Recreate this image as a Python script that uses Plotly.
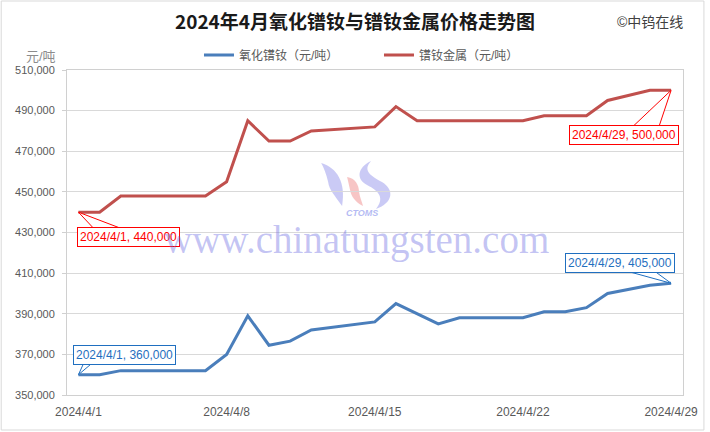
import plotly.graph_objects as go

DATES = ["2024-04-01", "2024-04-02", "2024-04-03", "2024-04-07", "2024-04-08", "2024-04-09",
         "2024-04-10", "2024-04-11", "2024-04-12", "2024-04-15", "2024-04-16", "2024-04-17",
         "2024-04-18", "2024-04-19", "2024-04-22", "2024-04-23", "2024-04-24", "2024-04-25",
         "2024-04-26", "2024-04-28", "2024-04-29"]
OXIDE = [360000, 360000, 362000, 362000, 370000, 389000, 374500, 376500, 382000, 386000, 395000,
         390000, 385000, 388000, 388000, 391000, 391000, 393000, 400000, 404000, 405000]
METAL = [440000, 440000, 448000, 448000, 455000, 485000, 475000, 475000, 480000, 482000, 492000,
         485000, 485000, 485000, 485000, 487500, 487500, 487500, 495000, 500000, 500000]
TICK_DATES = ["2024-04-01", "2024-04-08", "2024-04-15", "2024-04-22", "2024-04-29"]
TICK_LABELS = ["2024/4/1", "2024/4/8", "2024/4/15", "2024/4/22", "2024/4/29"]
NAME_OXIDE = "氧化镨钕（元/吨）"
NAME_METAL = "镨钕金属（元/吨）"
TITLE = "2024年4月氧化镨钕与镨钕金属价格走势图"

W, H = 710, 432
L, R, T, B = 67, 685, 70, 395


def px(x):
    return (x - L) / (R - L)


def py(y):
    return (B - y) / (B - T)


def path(cmds):
    out = []
    for c in cmds:
        if isinstance(c, str):
            out.append(c)
        else:
            out.append(f"{px(c[0]):.5f},{py(c[1]):.5f}")
    return " ".join(out)


FONT = "Liberation Sans, Noto Sans CJK SC, sans-serif"
RED = "#c0504d"
BLUE = "#4a7ebb"

fig = go.Figure()
fig.add_trace(go.Scatter(x=DATES, y=OXIDE, name=NAME_OXIDE, mode="lines",
                         line=dict(color=BLUE, width=3)))
fig.add_trace(go.Scatter(x=DATES, y=METAL, name=NAME_METAL, mode="lines",
                         line=dict(color=RED, width=3)))

shapes = []
# outer border
shapes.append(dict(type="rect", xref="paper", yref="paper", x0=px(1), x1=px(706), y0=py(430), y1=py(1),
                   line=dict(color="#d9d9d9", width=1), layer="below"))
# logo watermark
logo_blue = "rgba(150,150,235,0.5)"
logo_red = "rgba(240,140,140,0.5)"
shapes.append(dict(type="path", xref="paper", yref="paper", layer="between", fillcolor=logo_blue,
                   line=dict(width=0),
                   path=path(["M", (322, 163), "C", (338, 168), (347, 182), (343, 206),
                              "C", (336, 196), (330, 190), (329, 182),
                              "C", (327, 174), (325, 168), (322, 163), "Z"])))
shapes.append(dict(type="path", xref="paper", yref="paper", layer="between", fillcolor=logo_red,
                   line=dict(width=0),
                   path=path(["M", (348, 177), "C", (356, 178), (360, 185), (360, 192),
                              "C", (361, 198), (363, 202), (364, 206),
                              "C", (356, 202), (352, 196), (351, 190),
                              "C", (350, 185), (349, 181), (348, 177), "Z"])))
shapes.append(dict(type="path", xref="paper", yref="paper", layer="between", fillcolor=logo_blue,
                   line=dict(width=0),
                   path=path(["M", (372, 161), "C", (358, 168), (357, 179), (368, 185),
                              "C", (380, 191), (386, 198), (377, 209),
                              "C", (394, 203), (396, 190), (383, 182),
                              "C", (370, 175), (364, 170), (372, 161), "Z"])))


def wedge(xv, yv, p1, p2, color):
    return dict(type="path", xref="x", yref="y", xsizemode="pixel", ysizemode="pixel",
                xanchor=xv, yanchor=yv, layer="above", fillcolor="white",
                line=dict(color=color, width=1),
                path=f"M 0,0 L {p1[0]},{p1[1]} L {p2[0]},{p2[1]} Z")


RED_T = "#ff0000"
BLUE_T = "#1f6fc0"
shapes.append(wedge(DATES[0], METAL[0], (15, -16), (42, -16), RED_T))
shapes.append(wedge(DATES[-1], METAL[-1], (-38, -36), (-12, -36), RED_T))
shapes.append(wedge(DATES[0], OXIDE[0], (5, 11), (13, 11), BLUE_T))
shapes.append(wedge(DATES[-1], OXIDE[-1], (-40, 11), (-15, 11), BLUE_T))

annotations = []


def callout(xv, yv, color, dx, dy):
    d = xv.split("-")
    txt = f"{d[0]}/{int(d[1])}/{int(d[2])}, {yv:,}"
    return dict(x=xv, y=yv, xref="x", yref="y", text=txt, showarrow=False,
                xanchor="center", yanchor="middle",
                xshift=dx, yshift=dy, font=dict(family=FONT, size=12, color=color),
                bgcolor="white", bordercolor=color, borderwidth=1, borderpad=2)


annotations.append(callout(DATES[0], METAL[0], RED_T, 50, -25))
annotations.append(callout(DATES[-1], METAL[-1], RED_T, -47, -45))
annotations.append(callout(DATES[0], OXIDE[0], BLUE_T, 46, 20))
annotations.append(callout(DATES[-1], OXIDE[-1], BLUE_T, -51, 20))


def ptext(x, y, text, font):
    return dict(x=px(x), y=py(y), xref="paper", yref="paper", showarrow=False,
                xanchor="center", yanchor="middle", text=text, font=font)


annotations.append(ptext(357, 240, "www.chinatungsten.com",
                         dict(family="Liberation Serif, serif", size=39,
                              color="rgba(100,100,225,0.38)")))
annotations.append(ptext(363, 213, "<b><i>CTOMS</i></b>",
                         dict(family="Liberation Sans, sans-serif", size=9,
                              color="rgba(130,140,235,0.6)")))
annotations.append(ptext(41, 57, "元/吨", dict(family=FONT, size=13, color="#8c8c8c")))
annotations.append(ptext(652, 22, "©中钨在线", dict(family=FONT, size=14, color="#404040")))

fig.update_layout(
    width=W, height=H,
    margin=dict(l=L, r=W - R, t=T, b=H - B),
    paper_bgcolor="white", plot_bgcolor="white",
    title=dict(text=f"<b>{TITLE}</b>", x=0.5, xanchor="center", y=1 - 22 / H, yanchor="middle",
               font=dict(family="Noto Sans CJK SC, sans-serif", size=19, color="#1a1a1a")),
    showlegend=True,
    legend=dict(orientation="h", x=px(380), xanchor="center", y=py(55), yanchor="middle",
                entrywidth=135, entrywidthmode="pixels",
                font=dict(family=FONT, size=12, color="#595959"), bgcolor="rgba(0,0,0,0)"),
    xaxis=dict(type="date", range=["2024-03-31 11:00", "2024-04-29 13:30"],
               tickvals=TICK_DATES, ticktext=TICK_LABELS, showgrid=False,
               showline=True, linecolor="#d0d0d0", linewidth=1, mirror=True, ticks="",
               ticklabelstandoff=6,
               tickfont=dict(family=FONT, size=12, color="#595959")),
    yaxis=dict(range=[350000, 510000], tick0=350000, dtick=20000, tickformat=",", showgrid=True,
               gridcolor="#d9d9d9", gridwidth=1, zeroline=False,
               showline=True, linecolor="#d0d0d0", linewidth=1, mirror=True,
               ticks="outside", ticklen=4, tickcolor="#d0d0d0", ticklabelstandoff=5,
               tickfont=dict(family=FONT, size=11, color="#595959")),
    shapes=shapes, annotations=annotations,
    hovermode=False,
)

fig.write_html("out.html", config={"displayModeBar": False},
               post_script="document.body.style.margin='0';")
